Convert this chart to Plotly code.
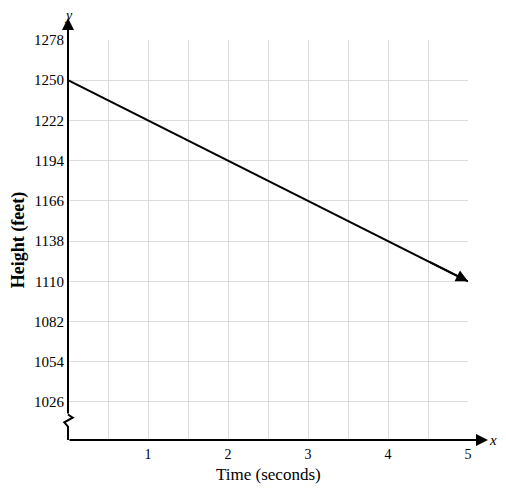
import plotly.graph_objects as go

# Data
time_s = [0, 5]
height_ft = [1250, 1110]
x_tickvals = [0, 0.5, 1, 1.5, 2, 2.5, 3, 3.5, 4, 4.5, 5]
x_ticktext = ["", "", "1", "", "2", "", "3", "", "4", "", "5"]
y_tickvals = [1026, 1054, 1082, 1110, 1138, 1166, 1194, 1222, 1250, 1278]
y_ticktext = [str(v) for v in y_tickvals]
x_title = "Time (seconds)"
y_title = "Height (feet)"

XR = [0, 5]
YR = [999.5, 1278]
# page body has an 8px margin
W, H = 490, 478
ML, MR, MT, MB = 60, 30, 32, 46
PW, PH = W - ML - MR, H - MT - MB

FONT = "Liberation Serif"

fig = go.Figure()
fig.add_trace(go.Scatter(x=time_s, y=height_ft, mode="lines",
                         line=dict(color="black", width=2), hoverinfo="skip",
                         showlegend=False))

# arrowhead on the data line
dx = time_s[1] - time_s[0]
dy = height_ft[1] - height_ft[0]
fig.add_annotation(x=time_s[1], y=height_ft[1], ax=time_s[1] - 0.1 * dx, ay=height_ft[1] - 0.1 * dy,
                   xref="x", yref="y", axref="x", ayref="y", text="", showarrow=True,
                   arrowhead=2, arrowsize=1.2, arrowwidth=2, arrowcolor="black")

ypp = (YR[1] - YR[0]) / PH
xpp = (XR[1] - XR[0]) / PW

# x axis arrow
fig.add_annotation(x=XR[1] + 20 * xpp, y=YR[0], ax=XR[0], ay=YR[0],
                   xref="x", yref="y", axref="x", ayref="y", text="", showarrow=True,
                   arrowhead=2, arrowsize=1.2, arrowwidth=2, arrowcolor="black")
# y axis arrow (above the break)
fig.add_annotation(x=XR[0], y=YR[1] + 22 * ypp, ax=XR[0], ay=YR[0] + 25 * ypp,
                   xref="x", yref="y", axref="x", ayref="y", text="", showarrow=True,
                   arrowhead=2, arrowsize=1.2, arrowwidth=2, arrowcolor="black")

# axis break zigzag in paper coordinates (offsets in px from bottom-left corner)
def P(px, py):
    return px / PW, py / PH

pts = [(0, 25.5), (4.7, 22.3), (-3.7, 17.7), (0, 13.3), (0, 0)]
path = ""
for i, (a, b) in enumerate(pts):
    u, v = P(a, b)
    path += ("M" if i == 0 else " L") + f" {u:.5f} {v:.5f}"
fig.add_shape(type="path", path=path, xref="paper", yref="paper",
              line=dict(color="black", width=2), layer="above")

fig.add_annotation(x=1 + 25 / PW, y=0, xref="paper", yref="paper", text="<i>x</i>",
                   showarrow=False, xanchor="center", yanchor="middle",
                   font=dict(family=FONT, size=15, color="black"))
fig.add_annotation(x=0, y=1 + 24 / PH, xref="paper", yref="paper", text="<i>y</i>",
                   showarrow=False, xanchor="center", yanchor="middle",
                   font=dict(family=FONT, size=14, color="black"))

# x-axis title placed as annotation so it can sit close to the bottom edge
fig.add_annotation(x=0.5, y=-34 / PH, xref="paper", yref="paper", text=x_title,
                   showarrow=False, xanchor="center", yanchor="middle",
                   font=dict(family=FONT, size=17, color="black"))

fig.update_layout(
    width=W, height=H,
    margin=dict(l=ML, r=MR, t=MT, b=MB),
    plot_bgcolor="white", paper_bgcolor="white",
    font=dict(family=FONT, size=14, color="black"),
    xaxis=dict(range=XR, tickvals=x_tickvals, ticktext=x_ticktext, showgrid=True,
               gridcolor="#dcdcdc", gridwidth=1, zeroline=False, showline=False,
               ticks="", tickfont=dict(size=14), ticklabelstandoff=4,
               fixedrange=True, automargin=False),
    yaxis=dict(range=YR, tickvals=y_tickvals, ticktext=y_ticktext, showgrid=True,
               gridcolor="#dcdcdc", gridwidth=1, zeroline=False, showline=False,
               ticks="", tickfont=dict(size=15), ticklabelstandoff=3,
               title=dict(text=f"<b>{y_title}</b>", font=dict(size=18), standoff=6),
               fixedrange=True, automargin=False),
)

fig.write_html("out.html")
